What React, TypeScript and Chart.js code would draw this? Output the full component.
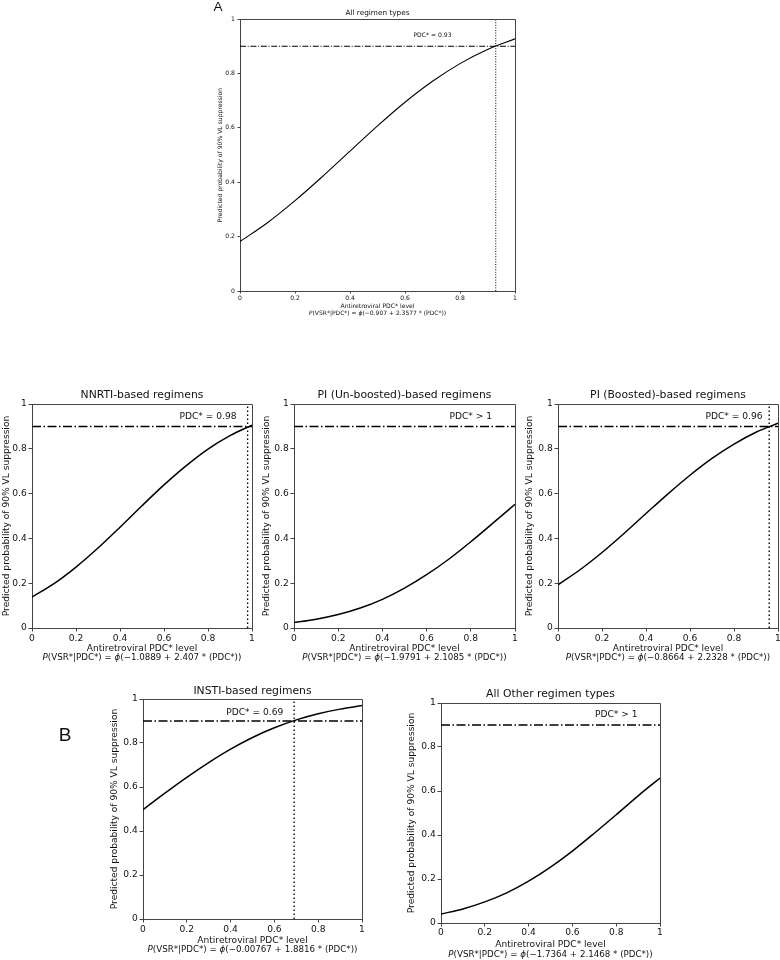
import React, { useEffect, useRef } from "react";
import { Chart, registerables } from "chart.js";

Chart.register(...registerables);

// ---- Data ----
const pdcLevels = [0, 0.1, 0.2, 0.3, 0.4, 0.5, 0.6, 0.7, 0.8, 0.9, 1];
const allRegimenProb = [0.182, 0.251, 0.332, 0.421, 0.514, 0.607, 0.694, 0.771, 0.836, 0.888, 0.927];
const nnrtiProb = [0.138, 0.198, 0.272, 0.357, 0.45, 0.546, 0.639, 0.724, 0.799, 0.859, 0.906];
const piUnboostedProb = [0.024, 0.039, 0.06, 0.089, 0.128, 0.178, 0.238, 0.307, 0.385, 0.468, 0.552];
const piBoostedProb = [0.193, 0.26, 0.337, 0.422, 0.511, 0.599, 0.682, 0.757, 0.821, 0.874, 0.914];
const instiProb = [0.497, 0.572, 0.644, 0.711, 0.772, 0.825, 0.869, 0.905, 0.933, 0.954, 0.97];
const otherProb = [0.041, 0.064, 0.096, 0.137, 0.19, 0.254, 0.327, 0.408, 0.492, 0.578, 0.659];

const tickLabels = ["0", "0.2", "0.4", "0.6", "0.8", "1"];
const targetProb = 0.9;
const panelTitles = [
  "All regimen types",
  "NNRTI-based regimens",
  "PI (Un-boosted)-based regimens",
  "PI (Boosted)-based regimens",
  "INSTI-based regimens",
  "All Other regimen types",
];
const pdcThresholds: (number | null)[] = [0.93, 0.98, null, 0.96, 0.69, null];
const thresholdTexts = ["PDC* = 0.93", "PDC* = 0.98", "PDC* > 1", "PDC* = 0.96", "PDC* = 0.69", "PDC* > 1"];
const intercepts = ["\u22120.907", "\u22121.0889", "\u22121.9791", "\u22120.8664", "\u22120.00767", "\u22121.7364"];
const slopes = ["2.3577", "2.407", "2.1085", "2.2328", "1.8816", "2.1468"];
const xAxisTitle = "Antiretroviral PDC* level";
const yAxisTitle = "Predicted probability of 90% VL suppression";
const seriesList = [allRegimenProb, nnrtiProb, piUnboostedProb, piBoostedProb, instiProb, otherProb];

// ---- Layout (page pixels) ----
type Layout = {
  canvas: [number, number, number, number];
  plot: [number, number, number, number];
  base: number;
  formulaSize: number;
  titleSize: number;
  titleY: number;
  yTitleX: number;
  xTickY: number;
  xTitleY: number;
  formulaY: number;
  tickLen: number;
  yTickPad: number;
  lw: number;
  dashDot: number[];
  dotted: number[];
  labelAt: [number, number];
  letter?: { text: string; x: number; y: number; size: number };
};

const rowDash = [9, 2.5, 1.5, 2.5];
const rowDot = [1.5, 2.5];

const layouts: Layout[] = [
  {
    canvas: [200, 0, 535, 322], plot: [240, 19, 515, 291], base: 6.1, formulaSize: 6.0, titleSize: 7.3,
    titleY: 13, yTitleX: 220.7, xTickY: 298, xTitleY: 306, formulaY: 313.2,
    tickLen: 2.5, yTickPad: 2.5, lw: 1.1, dashDot: [6, 1.7, 1, 1.7], dotted: [1, 1.6],
    labelAt: [0.7, 0.94], letter: { text: "A", x: 218, y: 7.5, size: 13.5 },
  },
  {
    canvas: [0, 384, 262, 668], plot: [32, 404, 252, 628], base: 9.1, formulaSize: 8.7, titleSize: 10.8,
    titleY: 395, yTitleX: 6.5, xTickY: 638.3, xTitleY: 648.5, formulaY: 657.3,
    tickLen: 3.5, yTickPad: 1.8, lw: 1.5, dashDot: rowDash, dotted: rowDot, labelAt: [0.8, 0.945],
  },
  {
    canvas: [262, 384, 525, 668], plot: [294, 404, 515, 628], base: 9.1, formulaSize: 8.7, titleSize: 10.8,
    titleY: 395, yTitleX: 267, xTickY: 638.3, xTitleY: 648.5, formulaY: 657.3,
    tickLen: 3.5, yTickPad: 1.8, lw: 1.5, dashDot: rowDash, dotted: rowDot, labelAt: [0.8, 0.945],
  },
  {
    canvas: [522, 384, 790, 668], plot: [558, 404, 778, 628], base: 9.1, formulaSize: 8.7, titleSize: 10.8,
    titleY: 395, yTitleX: 530, xTickY: 638.3, xTitleY: 648.5, formulaY: 657.3,
    tickLen: 3.5, yTickPad: 1.8, lw: 1.5, dashDot: rowDash, dotted: rowDot, labelAt: [0.8, 0.945],
  },
  {
    canvas: [40, 680, 380, 962], plot: [143, 699, 362, 919], base: 9.1, formulaSize: 8.7, titleSize: 10.8,
    titleY: 690.7, yTitleX: 114.4, xTickY: 929.3, xTitleY: 940.3, formulaY: 950,
    tickLen: 3.5, yTickPad: 1.8, lw: 1.5, dashDot: rowDash, dotted: rowDot, labelAt: [0.51, 0.94],
    letter: { text: "B", x: 65, y: 736, size: 19 },
  },
  {
    canvas: [400, 684, 680, 962], plot: [441, 703, 660, 923], base: 9.1, formulaSize: 8.7, titleSize: 10.8,
    titleY: 694, yTitleX: 412, xTickY: 932.3, xTitleY: 945, formulaY: 954.7,
    tickLen: 3.5, yTickPad: 1.8, lw: 1.5, dashDot: rowDash, dotted: rowDot, labelAt: [0.8, 0.945],
  },
];

const FONT = '"DejaVu Sans", "Noto Sans", sans-serif';
const INK = "#111";
const FRAME = "#444";

function alignPx(p: number, w: number) {
  const h = w / 2;
  return Math.round(p - h) + h;
}

function Panel({ idx }: { idx: number }) {
  const ref = useRef<HTMLCanvasElement>(null);
  const L = layouts[idx];
  const [cl, ct, cr, cb] = L.canvas;
  const [pl, pt, pr, pb] = L.plot;
  const cw = cr - cl;
  const ch = cb - ct;

  useEffect(() => {
    const lh = L.base * 1.2;
    const series = seriesList[idx];
    const threshold = pdcThresholds[idx];
    const datasets: any[] = [
      {
        data: pdcLevels.map((x, i) => ({ x, y: series[i] })),
        borderColor: "#000",
        borderWidth: L.lw,
        pointRadius: 0,
        cubicInterpolationMode: "monotone",
        fill: false,
      },
      {
        data: [
          { x: 0, y: targetProb },
          { x: 1, y: targetProb },
        ],
        borderColor: "#000",
        borderWidth: L.lw,
        borderDash: L.dashDot,
        pointRadius: 0,
        fill: false,
      },
    ];
    if (threshold !== null) {
      datasets.push({
        data: [
          { x: threshold, y: 0 },
          { x: threshold, y: 1 },
        ],
        borderColor: "#000",
        borderWidth: L.lw * 0.9,
        borderDash: L.dotted,
        pointRadius: 0,
        fill: false,
      });
    }

    const panelText = {
      id: "panelText",
      afterDraw(chart: any) {
        const { ctx, chartArea: a, scales } = chart;
        ctx.save();
        // top and right frame lines
        ctx.strokeStyle = FRAME;
        ctx.lineWidth = 1;
        ctx.beginPath();
        const yt = alignPx(a.top, 1);
        const xr = alignPx(a.right, 1);
        ctx.moveTo(alignPx(a.left, 1), yt);
        ctx.lineTo(xr, yt);
        ctx.lineTo(xr, alignPx(a.bottom, 1));
        ctx.stroke();

        ctx.fillStyle = INK;
        ctx.textBaseline = "middle";
        const cx = (a.left + a.right) / 2;

        // panel title
        ctx.textAlign = "center";
        ctx.font = `${L.titleSize}px ${FONT}`;
        ctx.fillText(panelTitles[idx], cx, L.titleY - ct);

        // threshold annotation
        ctx.font = `${L.base}px ${FONT}`;
        ctx.fillText(
          thresholdTexts[idx],
          scales.x.getPixelForValue(L.labelAt[0]),
          scales.y.getPixelForValue(L.labelAt[1])
        );

        // formula line
        const segs: [string, boolean][] = [
          ["P", true],
          ["(VSR*|PDC*) = ", false],
          ["\u03d5", true],
          [`(${intercepts[idx]} + ${slopes[idx]} * (PDC*))`, false],
        ];
        const fontFor = (it: boolean) => `${it ? "italic " : ""}${L.formulaSize}px ${FONT}`;
        let total = 0;
        const widths = segs.map(([t, it]) => {
          ctx.font = fontFor(it);
          const w = ctx.measureText(t).width;
          total += w;
          return w;
        });
        let x = cx - total / 2;
        ctx.textAlign = "left";
        segs.forEach(([t, it], i) => {
          ctx.font = fontFor(it);
          ctx.fillText(t, x, L.formulaY - ct);
          x += widths[i];
        });

        // panel letter
        if (L.letter) {
          ctx.textAlign = "center";
          ctx.font = `${L.letter.size}px "Liberation Sans", Arial, sans-serif`;
          ctx.fillText(L.letter.text, L.letter.x - cl, L.letter.y - ct);
        }
        ctx.restore();
      },
    };

    const tickFont = { family: FONT, size: L.base, lineHeight: 1.2 };
    const chart = new Chart(ref.current as HTMLCanvasElement, {
      type: "line",
      data: { datasets },
      options: {
        responsive: false,
        maintainAspectRatio: false,
        animation: false,
        events: [],
        layout: { padding: { left: 0, top: pt - ct, right: cr - pr, bottom: 0 } },
        plugins: {
          legend: { display: false },
          title: { display: false },
          tooltip: { enabled: false },
        },
        scales: {
          x: {
            type: "linear",
            min: 0,
            max: 1,
            ticks: {
              stepSize: 0.2,
              autoSkip: false,
              maxRotation: 0,
              color: INK,
              font: tickFont,
              padding: Math.max(0, L.xTickY - pb - L.tickLen - lh / 2),
              callback: (v: any) => tickLabels[Math.round(Number(v) * 5)],
            },
            grid: {
              display: true,
              drawOnChartArea: false,
              drawTicks: true,
              tickLength: L.tickLen,
              color: FRAME,
              lineWidth: 1,
            },
            border: { display: true, color: FRAME, width: 1 },
            title: {
              display: true,
              text: xAxisTitle,
              color: INK,
              font: tickFont,
              padding: { top: 0, bottom: cb - L.xTitleY - lh / 2 },
            },
            afterFit: (s: any) => {
              s.height = cb - pb;
            },
          },
          y: {
            type: "linear",
            min: 0,
            max: 1,
            ticks: {
              stepSize: 0.2,
              autoSkip: false,
              color: INK,
              font: tickFont,
              padding: L.yTickPad,
              callback: (v: any) => tickLabels[Math.round(Number(v) * 5)],
            },
            grid: {
              display: true,
              drawOnChartArea: false,
              drawTicks: true,
              tickLength: L.tickLen,
              color: FRAME,
              lineWidth: 1,
            },
            border: { display: true, color: FRAME, width: 1 },
            title: {
              display: true,
              text: yAxisTitle,
              color: INK,
              font: tickFont,
              padding: { top: L.yTitleX - cl - lh / 2, bottom: 0 },
            },
            afterFit: (s: any) => {
              s.width = pl - cl;
            },
          },
        },
      } as any,
      plugins: [panelText],
    });
    return () => chart.destroy();
  }, []);

  return (
    <canvas
      ref={ref}
      width={cw}
      height={ch}
      style={{ position: "absolute", left: cl, top: ct, width: cw, height: ch }}
    />
  );
}

export default function App() {
  return (
    <div
      style={{
        position: "absolute",
        left: 0,
        top: 0,
        width: 780,
        height: 960,
        overflow: "hidden",
        background: "#fff",
      }}
    >
      {layouts.map((_, i) => (
        <Panel key={i} idx={i} />
      ))}
    </div>
  );
}
